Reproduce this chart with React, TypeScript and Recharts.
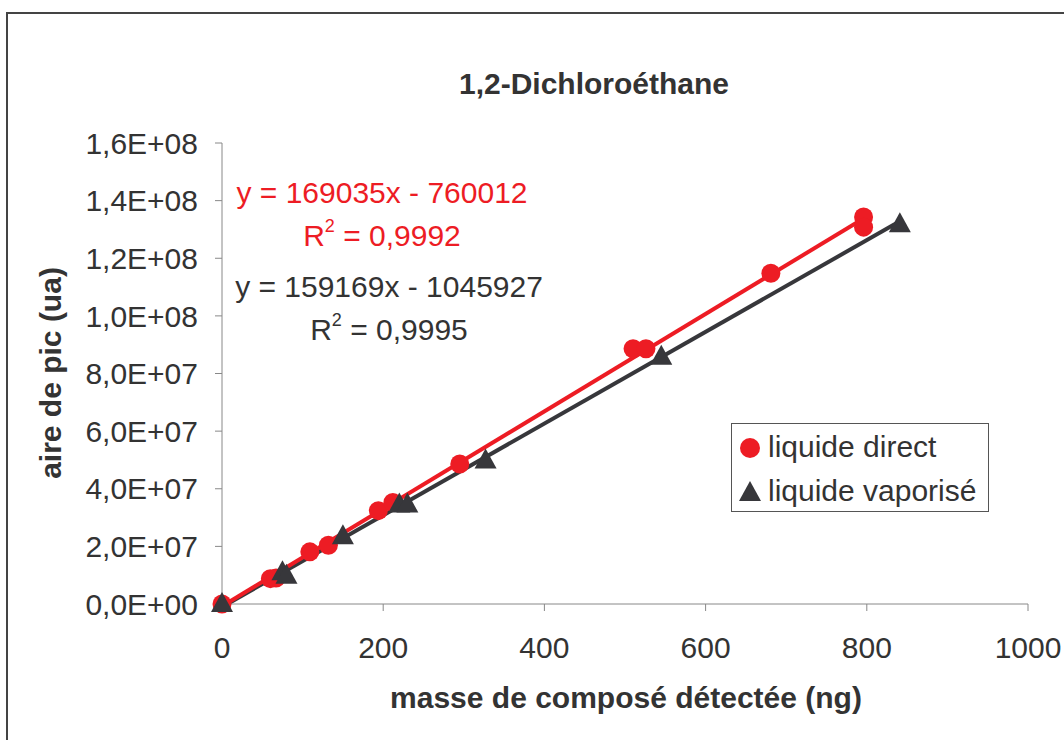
import React from 'react';
import {
  ScatterChart,
  Scatter,
  XAxis,
  YAxis,
  ReferenceLine,
} from 'recharts';

// values
const directX = [0, 60, 67, 109, 132, 194, 212, 295, 510, 526, 681, 796, 796];
const directY = [0, 8.8e6, 9.0e6, 18.1e6, 20.4e6, 32.4e6, 35.2e6, 48.6e6, 88.6e6, 88.6e6, 114.8e6, 134.3e6, 130.8e6];
const vapX = [0, 75, 80, 150, 220, 230, 327, 545, 841];
const vapY = [0, 11.0e6, 9.8e6, 23.5e6, 34.5e6, 34.5e6, 49.8e6, 85.8e6, 131.8e6];

const xTicks = [0, 200, 400, 600, 800, 1000];
const yTicks = [0, 2e7, 4e7, 6e7, 8e7, 1e8, 1.2e8, 1.4e8, 1.6e8];

// linear fits shown on the chart
const directFit = { slope: 169035, intercept: -760012, r2: '0,9992' };
const vapFit = { slope: 159169, intercept: -1045927, r2: '0,9995' };

const seriesNames = ['liquide direct', 'liquide vaporisé'];

const RED = '#ed1c24';
const DARK = '#37373b';
const TEXT = '#333333';
const FONT = '"Liberation Sans", Arial, sans-serif';

const directData = directX.map((x, i) => ({ x, y: directY[i] }));
const vapData = vapX.map((x, i) => ({ x, y: vapY[i] }));

const fitSegment = (fit: { slope: number; intercept: number }, xs: number[]) => {
  const xMax = Math.max(...xs);
  return [
    { x: 0, y: fit.intercept },
    { x: xMax, y: fit.slope * xMax + fit.intercept },
  ];
};

const sign = (n: number) => (n < 0 ? `- ${Math.abs(n)}` : `+ ${n}`);

// 1.6e+8 -> 1,6E+08
const sciFormat = (v: number) => {
  const [m, e] = v.toExponential(1).split('e');
  const exp = parseInt(e, 10);
  const expStr = String(Math.abs(exp)).padStart(2, '0');
  return `${m.replace('.', ',')}E${exp < 0 ? '-' : '+'}${expStr}`;
};

const CircleShape = (props: any) => (
  <circle cx={props.cx} cy={props.cy} r={9.5} fill={RED} />
);

const TriangleShape = (props: any) => {
  const { cx, cy } = props;
  return (
    <polygon
      points={`${cx},${cy - 12} ${cx - 11},${cy + 8} ${cx + 11},${cy + 8}`}
      fill={DARK}
    />
  );
};

const LegendBox = () => (
  <svg
    width={258}
    height={89}
    style={{ position: 'absolute', left: 731, top: 423 }}
    fontFamily={FONT}
  >
    <rect x={0.5} y={0.5} width={257} height={88} fill="#fff" stroke="#555" />
    <circle cx={19} cy={25} r={10} fill={RED} />
    <polygon points="19,58 8,78 30,78" fill={DARK} />
    <text x={37} y={34} fontSize={30} fill={TEXT}>
      {seriesNames[0]}
    </text>
    <text x={37} y={78} fontSize={30} fill={TEXT}>
      {seriesNames[1]}
    </text>
  </svg>
);

export default function App() {
  return (
    <div
      style={{
        position: 'absolute',
        left: 0,
        top: 0,
        width: 1064,
        height: 740,
        overflow: 'hidden',
        background: '#fff',
        fontFamily: FONT,
      }}
    >
      {/* outer frame, cut by the picture edge */}
      <div
        style={{
          position: 'absolute',
          left: 6,
          top: 12,
          width: 1200,
          height: 900,
          border: '2px solid #444',
        }}
      />
      <div style={{ position: 'absolute', left: 0, top: 0 }}>
        <ScatterChart
          width={1064}
          height={740}
          margin={{ top: 143, right: 36, bottom: 76, left: 0 }}
          style={{ fontFamily: FONT }}
        >
          <XAxis
            type="number"
            dataKey="x"
            domain={[0, 1000]}
            ticks={xTicks}
            height={60}
            tickSize={7}
            tickMargin={26}
            stroke="#888"
            tick={{ fill: TEXT, fontSize: 30 }}
            interval={0}
          />
          <YAxis
            type="number"
            dataKey="y"
            domain={[0, 1.6e8]}
            ticks={yTicks}
            width={222}
            tickSize={7}
            tickMargin={17}
            stroke="#888"
            tick={{ fill: TEXT, fontSize: 30 }}
            tickFormatter={sciFormat}
            interval={0}
          />
          <ReferenceLine
            segment={fitSegment(vapFit, vapX)}
            stroke={DARK}
            strokeWidth={4}
            ifOverflow="visible"
          />
          <ReferenceLine
            segment={fitSegment(directFit, directX)}
            stroke={RED}
            strokeWidth={4}
            ifOverflow="visible"
          />
          <Scatter
            name={seriesNames[0]}
            data={directData}
            shape={CircleShape}
            isAnimationActive={false}
          />
          <Scatter
            name={seriesNames[1]}
            data={vapData}
            shape={TriangleShape}
            isAnimationActive={false}
          />
        </ScatterChart>
      </div>
      <LegendBox />
      {/* titles and fit equations */}
      <svg
        width={1064}
        height={740}
        style={{ position: 'absolute', left: 0, top: 0, pointerEvents: 'none' }}
        fontFamily={FONT}
      >
        <text x={594} y={94} textAnchor="middle" fontSize={30} fontWeight="bold" fill={TEXT}>
          1,2-Dichloroéthane
        </text>
        <text x={626} y={708} textAnchor="middle" fontSize={30} fontWeight="bold" fill={TEXT}>
          masse de composé détectée (ng)
        </text>
        <text
          x={61}
          y={373}
          transform="rotate(-90 61 373)"
          textAnchor="middle"
          fontSize={30}
          fontWeight="bold"
          fill={TEXT}
        >
          aire de pic (ua)
        </text>

        <text x={382} y={203} textAnchor="middle" fontSize={30} fill={RED}>
          {`y = ${directFit.slope}x ${sign(directFit.intercept)}`}
        </text>
        <text x={382} y={246} textAnchor="middle" fontSize={30} fill={RED}>
          R<tspan fontSize={18} dy={-14}>2</tspan>
          <tspan dy={14}>{` = ${directFit.r2}`}</tspan>
        </text>
        <text x={389} y={297} textAnchor="middle" fontSize={30} fill={TEXT}>
          {`y = ${vapFit.slope}x ${sign(vapFit.intercept)}`}
        </text>
        <text x={389} y={340} textAnchor="middle" fontSize={30} fill={TEXT}>
          R<tspan fontSize={18} dy={-14}>2</tspan>
          <tspan dy={14}>{` = ${vapFit.r2}`}</tspan>
        </text>
      </svg>
    </div>
  );
}
